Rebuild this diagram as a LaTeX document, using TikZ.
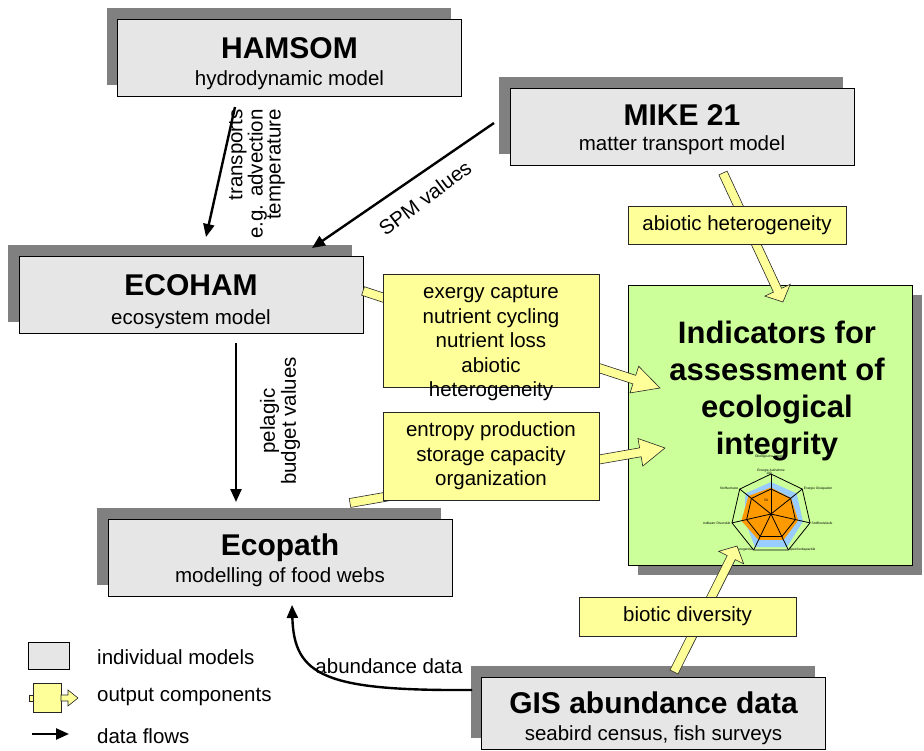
\documentclass[tikz,border=0pt]{standalone}
\usepackage{fontspec}
\setmainfont{Liberation Sans}
\usetikzlibrary{calc,arrows.meta,shadows}
\definecolor{boxgray}{HTML}{E6E6E6}
\definecolor{shadowgray}{HTML}{808080}
\definecolor{ylw}{HTML}{FFFF99}
\definecolor{grn}{HTML}{CCFF99}
\definecolor{radarblue}{HTML}{99CCFF}
\definecolor{radarorange}{HTML}{FF9900}
\newcommand{\yblockarrow}[4]{%
  \coordinate (#4-b) at ($(#2)!#3!(#1)$);
  \draw[yarrowstyle] ($(#1)!4.5pt!90:(#2)$) -- ($(#4-b)!4.5pt!-90:(#1)$) -- ($(#4-b)!14pt!-90:(#1)$) -- (#2) -- ($(#4-b)!14pt!90:(#1)$) -- ($(#4-b)!4.5pt!90:(#1)$) -- ($(#1)!4.5pt!-90:(#2)$) -- cycle;}
\begin{document}
\begin{tikzpicture}[x=1pt,y=-1pt,
  model/.style={draw=black, line width=0.8pt, fill=boxgray, minimum width=344pt, minimum height=77pt, inner sep=0pt,
    drop shadow={shadow xshift=-11pt, shadow yshift=11pt, fill=shadowgray, opacity=1}},
  greenbox/.style={draw=black, line width=0.8pt, fill=grn, minimum width=284pt, minimum height=280pt, inner sep=0pt,
    drop shadow={shadow xshift=10pt, shadow yshift=-10pt, fill=shadowgray, opacity=1}},
  ybox/.style={draw=black!85, line width=0.7pt, fill=ylw, inner sep=0pt, align=center, font=\fontsize{20.5}{24.5}\selectfont},
  yarrowstyle/.style={draw=black!85, line width=0.6pt, fill=ylw, line join=miter},
  ttl/.style={anchor=base, inner sep=0pt, font=\bfseries\fontsize{30}{36}\selectfont},
  sub/.style={anchor=base, inner sep=0pt, font=\fontsize{20.5}{24}\selectfont},
  lbl/.style={inner sep=0pt, font=\fontsize{20.5}{24.5}\selectfont},
  flow/.style={line width=2.4pt, -{Triangle[length=13pt,width=11pt]}},
  tiny/.style={inner sep=0.5pt, font=\fontsize{3.3}{3.8}\selectfont}
]
\useasboundingbox (0,0) rectangle (924,751);

% indicator box
\node[greenbox] (ind) at (770,425) {};

% model boxes
\node[model] (hamsom) at (289.5,57.5) {};
\node[model] (mike) at (682,126.5) {};
\node[model] (ecoham) at (191,295) {};
\node[model] (ecopath) at (280,557.5) {};
\node[model, minimum height=72pt] (gis) at (653.5,713) {};

\node[ttl] at ($(hamsom.center)+(0,1)$) {HAMSOM};
\node[sub] at ($(hamsom.center)+(0,28)$) {hydrodynamic model};
\node[ttl] at ($(mike.center)+(0,-1)$) {MIKE 21};
\node[sub] at ($(mike.center)+(0,24)$) {matter transport model};
\node[ttl] at ($(ecoham.center)+(0,1)$) {ECOHAM};
\node[sub] at ($(ecoham.center)+(0,30)$) {ecosystem model};
\node[ttl] at ($(ecopath.center)+(0,-2)$) {Ecopath};
\node[sub] at ($(ecopath.center)+(0,25)$) {modelling of food webs};
\node[ttl] at ($(gis.center)+(0,0)$) {GIS abundance data};
\node[sub] at ($(gis.center)+(0,27)$) {seabird census, fish surveys};

% radar chart
\begin{scope}[shift={(771,514)}]
  \node[tiny] at (0,-58) {Ökologische Integrität};
  \fill[radarblue] (-90:{0.80*40}) -- (-38.571:{0.82*40}) -- (12.857:{0.82*40}) -- (64.286:{0.92*40}) -- (115.714:{0.92*40}) -- (167.143:{0.68*40}) -- (218.571:{0.82*40}) -- cycle;
  \fill[radarorange] (-90:{0.66*40}) -- (-38.571:{0.64*40}) -- (12.857:{0.70*40}) -- (64.286:{0.72*40}) -- (115.714:{0.72*40}) -- (167.143:{0.76*40}) -- (218.571:{0.72*40}) -- cycle;
  \draw[line width=0.8pt, line join=miter] (-90:40) -- (-38.571:40) -- (12.857:40) -- (64.286:40) -- (115.714:40) -- (167.143:40) -- (218.571:40) -- cycle;
  \draw[line width=0.8pt, line join=miter] (-90:25) -- (-38.571:25) -- (12.857:25) -- (64.286:25) -- (115.714:25) -- (167.143:25) -- (218.571:25) -- cycle;
  \foreach \a in {-90,-38.571,12.857,64.286,115.714,167.143,218.571} \draw[line width=0.8pt] (0,0) -- (\a:40);
  \fill (0,0) circle (1.2pt);
  \node[tiny, anchor=south] at (-90:41) {Energie Aufnahme};
  \node[tiny, anchor=west] at (-38.571:41) {Energie Dissipation};
  \node[tiny, anchor=west] at (12.857:41) {Stoffkreisläufe};
  \node[tiny, anchor=west] at (64.286:40) {Speicherkapazität};
  \node[tiny, anchor=east] at (115.714:40) {Heterogenität};
  \node[tiny, anchor=east] at (167.143:41) {Indikator Diversität};
  \node[tiny, anchor=east] at (218.571:41) {Stoffverluste};
  \node[tiny] at (-2,-41) {100};
  \node[tiny] at (-5,-14) {50};
\end{scope}

\node[inner sep=0pt, anchor=north, align=center, font=\bfseries\fontsize{31}{37}\selectfont] (indtext) at (777,320.5)
  {Indicators for\\assessment of\\ecological\\integrity};

% yellow block arrows (output components)
\coordinate (a1s) at (723,173); \coordinate (a1t) at (783,302);
\coordinate (a2s) at (363,291); \coordinate (a2t) at (660,388);
\coordinate (a3s) at (350,503); \coordinate (a3t) at (665,448);
\coordinate (a4s) at (674,672); \coordinate (a4t) at (737,546);
\yblockarrow{a1s}{a1t}{13pt}{ya1}
\yblockarrow{a2s}{a2t}{27pt}{ya2}
\yblockarrow{a3s}{a3t}{25pt}{ya3}
\yblockarrow{a4s}{a4t}{13pt}{ya4}

% yellow boxes
\node[ybox, minimum width=218pt, minimum height=38pt] (abiotic) at (737,225) {abiotic heterogeneity};
\node[ybox, minimum width=216pt, minimum height=113pt] (exergy) at (491,330.5) {};
\node[lbl, anchor=north, align=center] (exergytext) at (491,285.5) {exergy capture\\nutrient cycling\\nutrient loss\\abiotic\\heterogeneity};
\node[ybox, minimum width=216pt, minimum height=88pt] (entropy) at (491,456) {entropy production\\storage capacity\\organization};
\node[ybox, minimum width=217pt, minimum height=39pt] (biotic) at (687.5,616.5) {biotic diversity};

% data flows
\coordinate (h2e-s) at (235,107); \coordinate (h2e-t) at (206,237);
\draw[flow] (h2e-s) -- (h2e-t);
\coordinate (m2e-s) at (494,123); \coordinate (m2e-t) at (312,248);
\draw[flow] (m2e-s) -- (m2e-t);
\coordinate (e2p-s) at (236,343); \coordinate (e2p-t) at (236,502);
\draw[flow] (e2p-s) -- (e2p-t);
\coordinate (g2p-s) at (472,690); \coordinate (g2p-t) at (292,605);
\draw[flow] (g2p-s) .. controls (325,691) and (294,676) .. (g2p-t);

\node[lbl, rotate=90, align=right, font=\fontsize{20.5}{18}\selectfont] (translbl) at (257,174) {transports\\e.g. advection\\temperature};
\node[lbl, rotate=37] (spmlbl) at (425,198) {SPM values};
\node[lbl, rotate=90, align=center, font=\fontsize{20.5}{21}\selectfont] (pellbl) at (280,421) {pelagic\\budget values};
\node[lbl] (ablbl) at (389,666) {abundance data};

% legend
\node[draw=black, line width=0.8pt, fill=boxgray, minimum width=41pt, minimum height=27pt, inner sep=0pt] (legmodel) at (48.5,655.5) {};
\node[lbl, anchor=west] at (97,657) {individual models};
\draw[yarrowstyle] (29,695) rectangle (33,701);
\node[draw=black!85, line width=0.7pt, fill=ylw, minimum width=28pt, minimum height=29pt, inner sep=0pt] (legout) at (47,697.5) {};
\draw[yarrowstyle] (61,695) -- (68,695) -- (68,690) -- (78,698) -- (68,706) -- (68,701) -- (61,701) -- cycle;
\node[lbl, anchor=west] at (97,697) {output components};
\coordinate (legf-s) at (32,734); \coordinate (legf-t) at (69,734);
\draw[flow] (legf-s) -- (legf-t);
\node[lbl, anchor=west] at (97,736) {data flows};
\end{tikzpicture}
\end{document}
